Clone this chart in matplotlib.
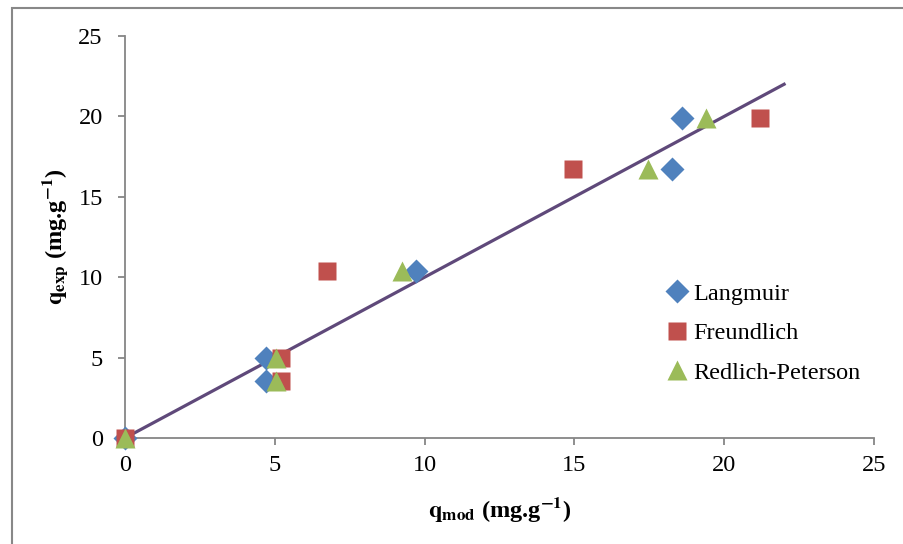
import numpy as np
import matplotlib
matplotlib.use("Agg")
import matplotlib.pyplot as plt
from matplotlib.patches import Rectangle

plt.rcParams['font.family'] = ['Liberation Serif', 'DejaVu Serif']
plt.rcParams['mathtext.fontset'] = 'stix'

# data
lang_mod = [0.0, 4.7, 4.7, 9.7, 18.25, 18.6]
lang_exp = [0.0, 5.0, 3.55, 10.4, 16.75, 19.9]
freu_mod = [0.0, 5.2, 5.2, 6.75, 14.95, 21.2]
freu_exp = [0.0, 5.0, 3.55, 10.4, 16.75, 19.9]
rp_mod = [0.0, 5.05, 5.05, 9.25, 17.45, 19.4]
rp_exp = [0.0, 5.0, 3.55, 10.4, 16.75, 19.9]
line_x = [0, 22]
line_y = [0, 22]

fig = plt.figure(figsize=(9.04, 5.44), dpi=100)
ax = fig.add_axes([0.1383, 0.1949, 0.8285, 0.7389])

# outer chart border
fig.patches.append(Rectangle((12/904, -0.1), 1.2, 1 - 8/544 + 0.1,
                             transform=fig.transFigure, fill=False,
                             edgecolor='#888888', lw=1.5))

ax.plot(line_x, line_y, color='#5F497A', lw=2.3, zorder=2)
ax.plot(lang_mod, lang_exp, 'D', color='#4F81BD', ms=12, mec='none',
        label='Langmuir', zorder=3, clip_on=False)
ax.plot(freu_mod, freu_exp, 's', color='#C0504D', ms=13.5, mec='none',
        label='Freundlich', zorder=4, clip_on=False)
ax.plot(rp_mod, rp_exp, '^', color='#9BBB59', ms=14, mec='none',
        label='Redlich-Peterson', zorder=5, clip_on=False)

ax.set_xlim(0, 25)
ax.set_ylim(0, 25)
ax.set_xticks(np.arange(0, 26, 5))
ax.set_yticks(np.arange(0, 26, 5))

for s in ['top', 'right']:
    ax.spines[s].set_visible(False)
for s in ['left', 'bottom']:
    ax.spines[s].set_color('#868686')
    ax.spines[s].set_linewidth(1.3)
ax.tick_params(direction='out', length=5, width=1.3, color='#868686',
               labelsize=17.5)
ax.tick_params(axis='y', pad=11)
ax.tick_params(axis='x', pad=7)

ax.set_xlabel(r'$\mathbf{q_{mod}}$ (mg.g$^{\mathbf{-1}}$)', fontsize=17.5,
              fontweight='bold', labelpad=14)
ax.set_ylabel(r'$\mathbf{q_{exp}}$ (mg.g$^{\mathbf{-1}}$)', fontsize=17.5,
              fontweight='bold', labelpad=6)

ax.legend(loc='upper left', bbox_to_anchor=(0.71, 0.41), frameon=False,
          fontsize=17.5, handlelength=0.9, handletextpad=0.2,
          labelspacing=0.72, borderaxespad=0)

fig.savefig('out.png', dpi=100)
